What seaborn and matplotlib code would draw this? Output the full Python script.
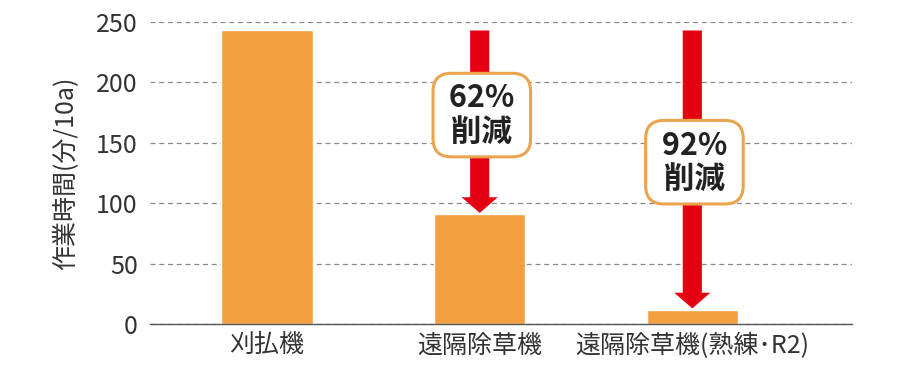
import matplotlib
matplotlib.use('Agg')
import matplotlib.pyplot as plt
import seaborn as sns
import pandas as pd

# data
machines = ['刈払機', '遠隔除草機', '遠隔除草機(熟練･R2)']
minutes = [243, 91, 12]
reductions = [' 62% \n 削減 ', ' 92% \n 削減 ']
label_y = [173, 134]   # centre of each reduction label (in minutes)

sns.set_style('white')
plt.rcParams['font.family'] = ['Noto Sans CJK JP', 'DejaVu Sans']

bar_color = '#F2A03F'
arrow_color = '#E50012'

df = pd.DataFrame({'machine': machines, 'minutes': minutes})

fig = plt.figure(figsize=(9.1, 3.7), dpi=100)
ax = fig.add_axes([0.165, 0.124, 0.771, 0.8165])

sns.barplot(data=df, x='machine', y='minutes', color=bar_color,
            saturation=1, width=0.43, ax=ax)

ax.set_ylim(0, 250)
ax.set_xlim(-0.55, 2.75)
ax.set_yticks([0, 50, 100, 150, 200, 250])
ax.yaxis.grid(True, linestyle=(0, (4, 3)), color='#8a8a8a', linewidth=0.9)
ax.set_axisbelow(True)
for side in ['left', 'right', 'top']:
    ax.spines[side].set_visible(False)
ax.spines['bottom'].set_color('#555555')
ax.spines['bottom'].set_linewidth(1.0)
ax.tick_params(axis='both', length=0, labelsize=18, colors='#333333')
ax.tick_params(axis='y', pad=9)
ax.tick_params(axis='x', pad=6)
ax.set_xlabel('')
ax.set_ylabel('作業時間(分/10a)', fontsize=18, color='#333333', labelpad=12)

# reduction arrows from the first bar level down to each bar
for i in range(1, len(minutes)):
    ax.arrow(i, minutes[0], 0, -(minutes[0] - minutes[i] - 1),
             width=0.09, head_width=0.17, head_length=13,
             length_includes_head=True, color=arrow_color, lw=0, zorder=3)
    ax.text(i + 0.01, label_y[i - 1], reductions[i - 1], ha='center', va='center',
            fontsize=22, fontweight='bold', color='#222222', linespacing=1.05,
            zorder=4,
            bbox=dict(boxstyle='round,pad=0.3,rounding_size=0.6',
                      facecolor='white', edgecolor='#EBA44E', linewidth=2.2))

fig.savefig('out.png', dpi=100, facecolor='white')
